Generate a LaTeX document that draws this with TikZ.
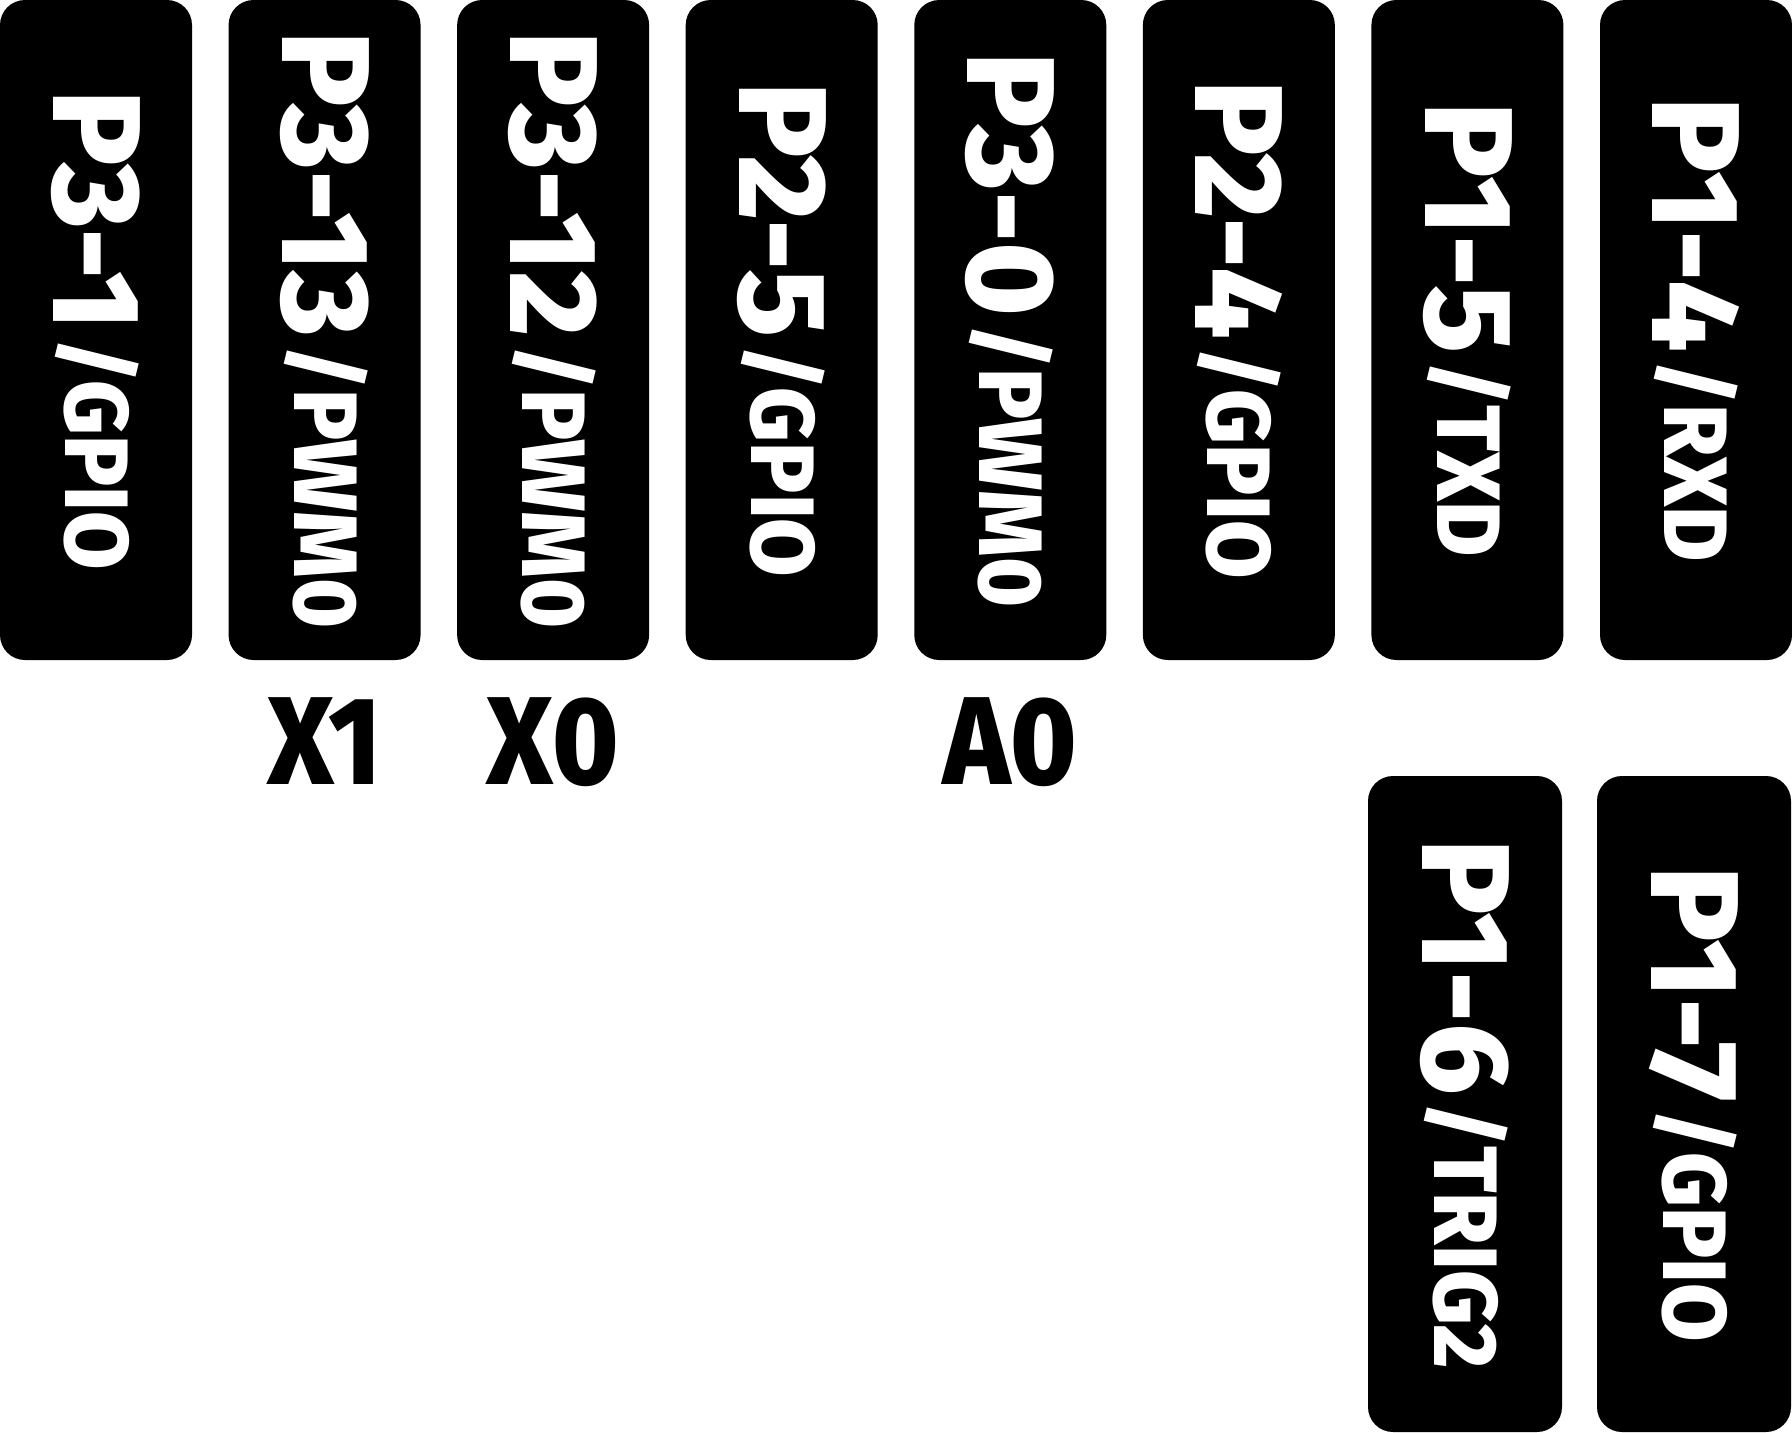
\documentclass[tikz,border=0pt]{standalone}
\usepackage{fontspec}
\usetikzlibrary{positioning}
\newfontfamily\pinbigfont{Fira Sans ExtraBold}
\newfontfamily\pinsmallfont[FakeStretch=0.94]{Fira Sans ExtraBold}
\newfontfamily\padlabelfont[FakeStretch=0.9]{Fira Sans ExtraBold}
\newcommand\pintext[2]{%
  {\pinbigfont\fontsize{125}{125}\selectfont #1}%
  \hspace{8pt}%
  \raisebox{12pt}{\pinsmallfont\fontsize{90}{90}\selectfont /#2}}
\tikzset{
  pinbox/.style={
    fill=black,
    rectangle,
    rounded corners=25pt,
    rotate=-90,
    minimum width=660pt,
    minimum height=192pt,
    inner sep=0pt,
    text=white,
  },
  padlabel/.style={
    inner sep=0pt,
    font=\padlabelfont\fontsize{125}{125}\selectfont,
  },
}
\begin{document}
\begin{tikzpicture}[x=1pt,y=-1pt]
  \useasboundingbox (0,0) rectangle (1792,1433);
  % top row of pins
  \foreach \pin/\fn [count=\i] in {P3-1/GPIO,P3-13/PWM0,P3-12/PWM0,P2-5/GPIO,
                                   P3-0/PWM0,P2-4/GPIO,P1-5/TXD,P1-4/RXD}
    \node[pinbox] (top\i) at ({96+228.57*(\i-1)},330) {\pintext{\pin}{\fn}};
  % bottom row
  \node[pinbox, minimum width=656pt, minimum height=194pt] (p16) at (1465,1104) {\pintext{P1-6}{TRIG2}};
  \node[pinbox, minimum width=656pt, minimum height=194pt] (p17) at (1694,1104) {\pintext{P1-7}{GPIO}};
  % channel labels
  \node[padlabel, below=37pt of top2.east] (x1) {X1};
  \node[padlabel, below=37pt of top3.east] (x0) {X0};
  \node[padlabel, below=37pt of top5.east] (a0) {A0};
\end{tikzpicture}
\end{document}
